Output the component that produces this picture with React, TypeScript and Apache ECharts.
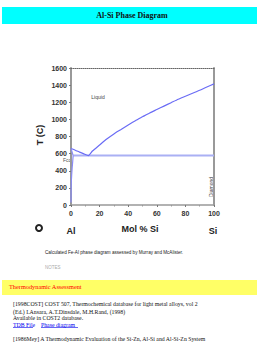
import React, { useEffect, useRef } from "react";
import * as echarts from "echarts";

const molSi = [0, 3, 6, 9, 12.2, 15, 20, 25, 30, 35, 40, 45, 50, 55, 60, 65, 70, 75, 80, 85, 90, 95, 100];
const liquidusT = [660, 640, 618, 597, 577, 630, 700, 770, 830, 882, 935, 985, 1030, 1075, 1115, 1155, 1195, 1235, 1270, 1305, 1340, 1378, 1414];
const solidusX = [0, 1.5];
const solidusT = [660, 577];
const solvusX = [1.5, 1.2, 0.85, 0.5, 0.25, 0.1, 0.03, 0];
const solvusT = [577, 510, 440, 360, 280, 200, 110, 30];
const eutecticX = [1.5, 100];
const eutecticT = [577, 577];
const xTicks = [0, 20, 40, 60, 80, 100];
const yTicks = [0, 200, 400, 600, 800, 1000, 1200, 1400, 1600];

const zip = (a: number[], b: number[]) => a.map((v, i) => [v, b[i]]);

export default function App() {
  const ref = useRef<HTMLDivElement>(null);
  useEffect(() => {
    if (!ref.current) return;
    const chart = echarts.init(ref.current, null, { renderer: "svg" });
    const sans = "Liberation Sans, Arial, sans-serif";
    const serif = "Liberation Serif, Times New Roman, serif";
    const axisLabel = { color: "#333", fontSize: 7, fontWeight: "bold" as const, fontFamily: sans };
    chart.setOption({
      animation: false,
      backgroundColor: "#fff",
      grid: { left: 71, right: 45, top: 68, bottom: 141, show: false },
      xAxis: [
        {
          type: "value", min: 0, max: 100, interval: 20,
          axisLine: { show: true, onZero: false, lineStyle: { color: "#999", width: 1.5 } },
          axisTick: { show: true, length: 2, lineStyle: { color: "#777" } },
          minorTick: { show: true, splitNumber: 2, length: 1.5, lineStyle: { color: "#999" } },
          axisLabel: { ...axisLabel, margin: 5, formatter: (v: number) => (xTicks.includes(v) ? String(v) : "") },
          splitLine: { show: false },
        },
        {
          type: "value", min: 0, max: 100, position: "top",
          axisLine: { show: true, onZero: false, lineStyle: { color: "#666", width: 1, type: "dotted" } },
          axisTick: { show: false }, axisLabel: { show: false }, splitLine: { show: false },
        },
      ],
      yAxis: [
        {
          type: "value", min: 0, max: 1600, interval: 200,
          axisLine: { show: true, onZero: false, lineStyle: { color: "#999", width: 2 } },
          axisTick: { show: true, length: 2, lineStyle: { color: "#777" } },
          axisLabel: { ...axisLabel, margin: 4, formatter: (v: number) => (yTicks.includes(v) ? String(v) : "") },
          splitLine: { show: false },
        },
        {
          type: "value", min: 0, max: 1600, position: "right",
          axisLine: { show: true, onZero: false, lineStyle: { color: "#999", width: 2 } },
          axisTick: { show: false }, axisLabel: { show: false }, splitLine: { show: false },
        },
      ],
      series: [
        {
          type: "line", data: zip(eutecticX, eutecticT), showSymbol: false, silent: true,
          lineStyle: { color: "#aab0f4", width: 2 },
        },
        {
          type: "line", data: zip(molSi, liquidusT), showSymbol: false, silent: true, smooth: 0.2,
          lineStyle: { color: "#6a6cf5", width: 1.2 },
        },
        {
          type: "line", data: zip(solidusX, solidusT), showSymbol: false, silent: true,
          lineStyle: { color: "#8a8cf5", width: 1.2 },
        },
        {
          type: "line", data: zip(solvusX, solvusT), showSymbol: false, silent: true,
          lineStyle: { color: "#8a8cf5", width: 1.2 },
        },
      ],
      graphic: [
        { type: "rect", shape: { x: 2, y: 7, width: 255, height: 17 }, style: { fill: "#00ffff" } },
        {
          type: "text", x: 132, y: 15.5,
          style: { text: "Al-Si Phase Diagram", fill: "#111", font: `bold 8px ${serif}`, textAlign: "center", textVerticalAlign: "middle" },
        },
        {
          type: "text", x: 98, y: 97,
          style: { text: "Liquid", fill: "#444", font: `5px ${sans}`, textAlign: "center", textVerticalAlign: "middle" },
        },
        {
          type: "text", x: 67, y: 160,
          style: { text: "Fcc", fill: "#555", font: `5px ${sans}`, textAlign: "center", textVerticalAlign: "middle" },
        },
        {
          type: "text", x: 211, y: 187, rotation: Math.PI / 2,
          style: { text: "Diamond", fill: "#444", font: `5px ${sans}`, textAlign: "center", textVerticalAlign: "middle" },
        },
        {
          type: "text", x: 40, y: 135, rotation: Math.PI / 2,
          style: { text: "T (C)", fill: "#222", font: `bold 9px ${sans}`, textAlign: "center", textVerticalAlign: "middle" },
        },
        {
          type: "text", x: 140, y: 229,
          style: { text: "Mol % Si", fill: "#222", font: `bold 9px ${sans}`, textAlign: "center", textVerticalAlign: "middle" },
        },
        {
          type: "text", x: 71, y: 231,
          style: { text: "Al", fill: "#222", font: `bold 9px ${sans}`, textAlign: "center", textVerticalAlign: "middle" },
        },
        {
          type: "text", x: 213, y: 231,
          style: { text: "Si", fill: "#222", font: `bold 9px ${sans}`, textAlign: "center", textVerticalAlign: "middle" },
        },
        { type: "circle", shape: { cx: 39, cy: 228, r: 4 }, style: { fill: "#222" } },
        { type: "circle", shape: { cx: 39, cy: 228, r: 2 }, style: { fill: "#fff" } },
        {
          type: "text", x: 45, y: 252,
          style: { text: "Calculated Fe-Al phase diagram assessed by Murray and McAlister.", fill: "#222", font: `4.6px ${sans}`, textAlign: "left", textVerticalAlign: "middle" },
        },
        {
          type: "text", x: 45, y: 267,
          style: { text: "NOTES", fill: "#aaa", font: `4.5px ${sans}`, textAlign: "left", textVerticalAlign: "middle" },
        },
        { type: "rect", shape: { x: 2, y: 280, width: 255, height: 15 }, style: { fill: "#ffff66" } },
        {
          type: "text", x: 9, y: 286.5,
          style: { text: "Thermodynamic Assessment", fill: "#ff0000", font: `6.3px ${serif}`, textAlign: "left", textVerticalAlign: "middle" },
        },
        {
          type: "text", x: 13, y: 304,
          style: { text: "[1998COST] COST 507, Thermochemical database for light metal alloys, vol 2", fill: "#111", font: `5.8px ${serif}`, textAlign: "left", textVerticalAlign: "middle" },
        },
        {
          type: "text", x: 13, y: 311.5,
          style: { text: "(Ed.) I.Ansara, A.T.Dinsdale, M.H.Rand, (1998)", fill: "#111", font: `5.8px ${serif}`, textAlign: "left", textVerticalAlign: "middle" },
        },
        {
          type: "text", x: 13, y: 318,
          style: { text: "Available in COST2 database.", fill: "#111", font: `5.8px ${serif}`, textAlign: "left", textVerticalAlign: "middle" },
        },
        {
          type: "text", x: 13, y: 324.5,
          style: { text: "TDB File", fill: "#0000ee", font: `5.8px ${serif}`, textAlign: "left", textVerticalAlign: "middle" },
        },
        { type: "line", shape: { x1: 13, y1: 327.5, x2: 33, y2: 327.5 }, style: { stroke: "#0000ee", lineWidth: 0.6 } },
        {
          type: "text", x: 41, y: 324.5,
          style: { text: "Phase diagram", fill: "#0000ee", font: `5.8px ${serif}`, textAlign: "left", textVerticalAlign: "middle" },
        },
        { type: "line", shape: { x1: 41, y1: 327.5, x2: 78, y2: 327.5 }, style: { stroke: "#0000ee", lineWidth: 0.6 } },
        {
          type: "text", x: 13, y: 339,
          style: { text: "[1986Mey] A Thermodynamic Evaluation of the Si-Zn, Al-Si and Al-Si-Zn System", fill: "#111", font: `5.8px ${serif}`, textAlign: "left", textVerticalAlign: "middle" },
        },
      ],
    });
    return () => chart.dispose();
  }, []);
  return <div ref={ref} style={{ position: "absolute", left: 0, top: 0, width: 259, height: 346 }} />;
}
